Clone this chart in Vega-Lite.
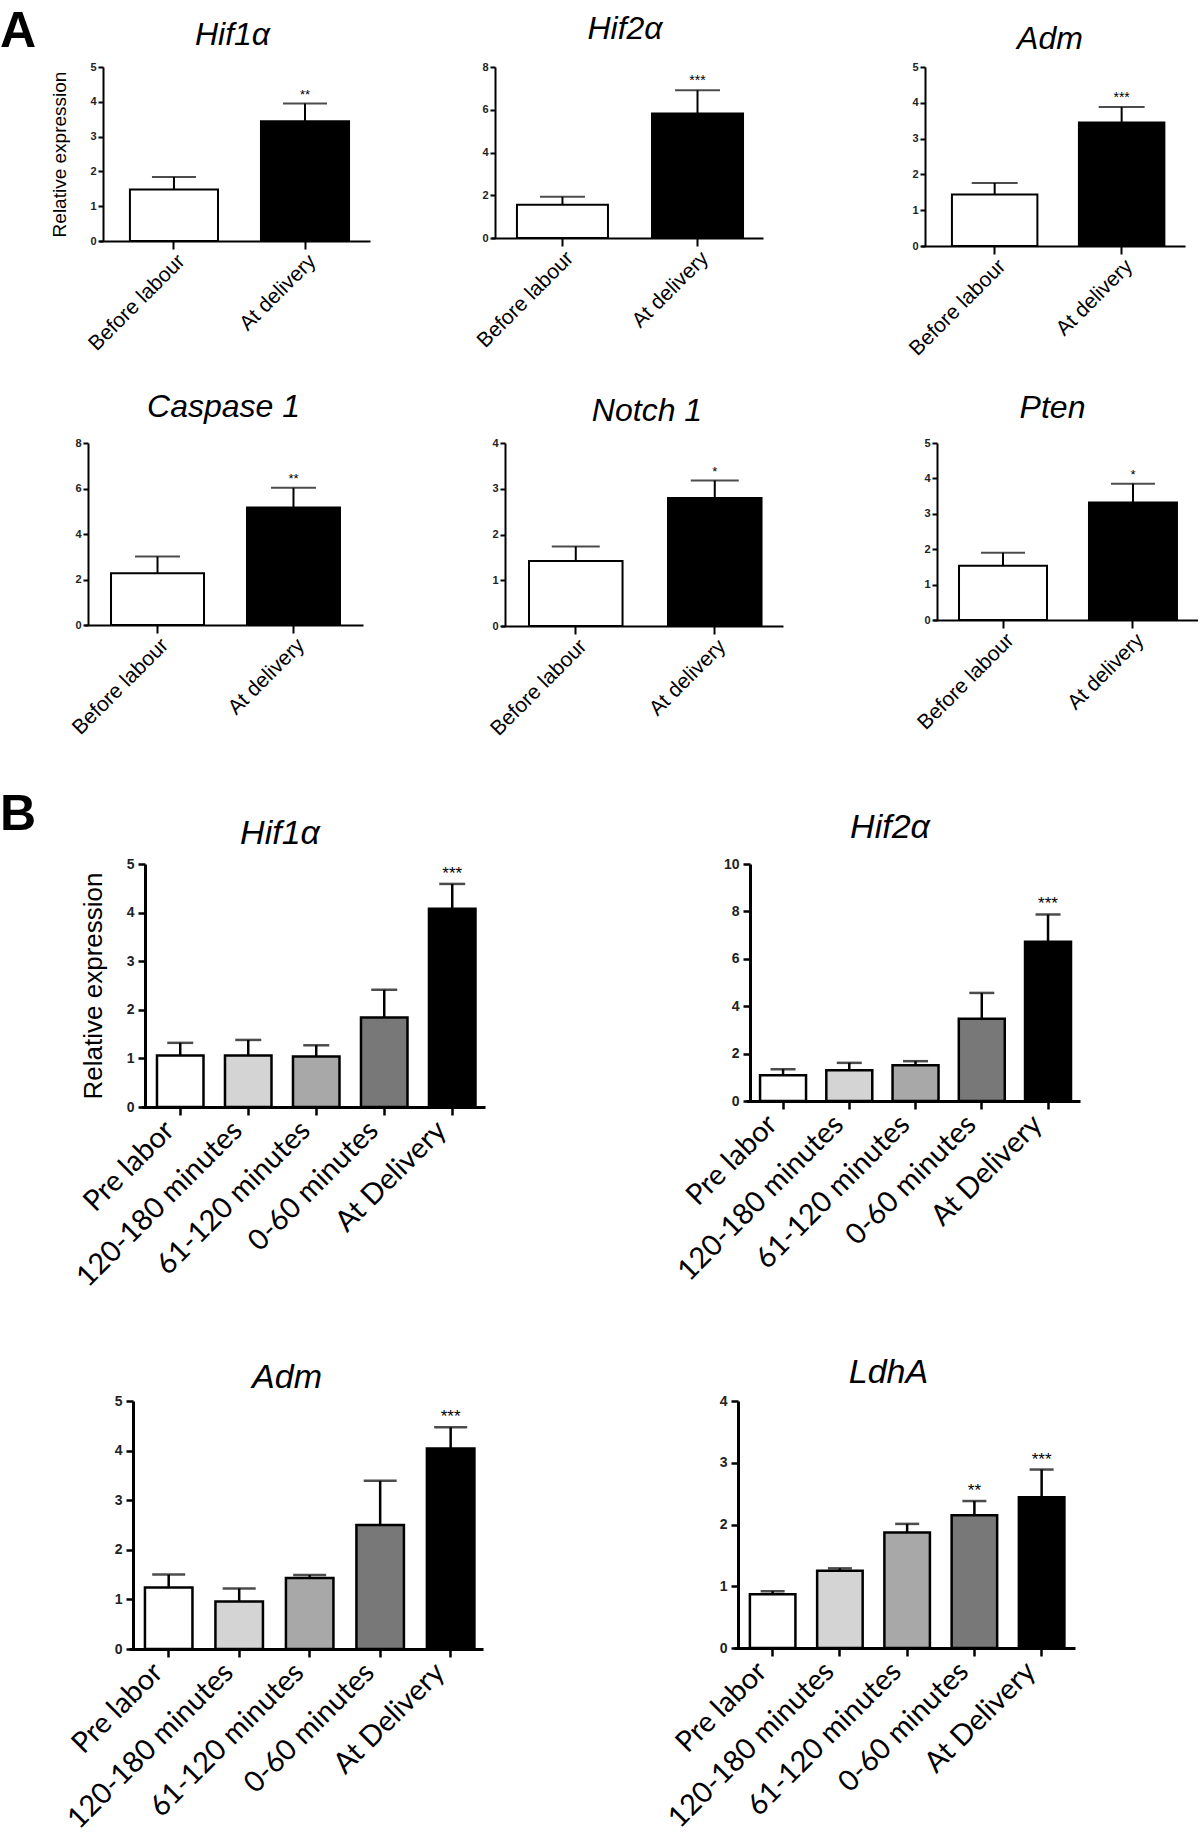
{
  "$schema": "https://vega.github.io/schema/vega-lite/v6.json",
  "background": "white",
  "padding": {"left": 0, "top": 7, "right": 0, "bottom": 0},
  "config": {"view": {"stroke": null}},
  "datasets": {
    "expr": [
      {"panel": "A1", "group": "Before labour", "value": 1.48, "err": 1.84, "sig": ""},
      {"panel": "A1", "group": "At delivery", "value": 3.44, "err": 3.95, "sig": "**"},
      {"panel": "A2", "group": "Before labour", "value": 1.56, "err": 1.93, "sig": ""},
      {"panel": "A2", "group": "At delivery", "value": 5.83, "err": 6.91, "sig": "***"},
      {"panel": "A3", "group": "Before labour", "value": 1.44, "err": 1.76, "sig": ""},
      {"panel": "A3", "group": "At delivery", "value": 3.45, "err": 3.88, "sig": "***"},
      {"panel": "A4", "group": "Before labour", "value": 2.28, "err": 3.01, "sig": ""},
      {"panel": "A4", "group": "At delivery", "value": 5.17, "err": 6.03, "sig": "**"},
      {"panel": "A5", "group": "Before labour", "value": 1.42, "err": 1.74, "sig": ""},
      {"panel": "A5", "group": "At delivery", "value": 2.8, "err": 3.18, "sig": "*"},
      {"panel": "A6", "group": "Before labour", "value": 1.53, "err": 1.9, "sig": ""},
      {"panel": "A6", "group": "At delivery", "value": 3.32, "err": 3.85, "sig": "*"},
      {"panel": "B1", "group": "Pre labor", "value": 1.06, "err": 1.32, "sig": ""},
      {"panel": "B1", "group": "120-180 minutes", "value": 1.06, "err": 1.38, "sig": ""},
      {"panel": "B1", "group": "61-120 minutes", "value": 1.04, "err": 1.27, "sig": ""},
      {"panel": "B1", "group": "0-60 minutes", "value": 1.84, "err": 2.41, "sig": ""},
      {"panel": "B1", "group": "At Delivery", "value": 4.08, "err": 4.59, "sig": "***"},
      {"panel": "B2", "group": "Pre labor", "value": 1.09, "err": 1.34, "sig": ""},
      {"panel": "B2", "group": "120-180 minutes", "value": 1.3, "err": 1.61, "sig": ""},
      {"panel": "B2", "group": "61-120 minutes", "value": 1.51, "err": 1.68, "sig": ""},
      {"panel": "B2", "group": "0-60 minutes", "value": 3.47, "err": 4.56, "sig": ""},
      {"panel": "B2", "group": "At Delivery", "value": 6.72, "err": 7.87, "sig": "***"},
      {"panel": "B3", "group": "Pre labor", "value": 1.24, "err": 1.5, "sig": ""},
      {"panel": "B3", "group": "120-180 minutes", "value": 0.96, "err": 1.22, "sig": ""},
      {"panel": "B3", "group": "61-120 minutes", "value": 1.43, "err": 1.49, "sig": ""},
      {"panel": "B3", "group": "0-60 minutes", "value": 2.5, "err": 3.39, "sig": ""},
      {"panel": "B3", "group": "At Delivery", "value": 4.04, "err": 4.47, "sig": "***"},
      {"panel": "B4", "group": "Pre labor", "value": 0.87, "err": 0.92, "sig": ""},
      {"panel": "B4", "group": "120-180 minutes", "value": 1.25, "err": 1.29, "sig": ""},
      {"panel": "B4", "group": "61-120 minutes", "value": 1.87, "err": 2.01, "sig": ""},
      {"panel": "B4", "group": "0-60 minutes", "value": 2.15, "err": 2.38, "sig": "**"},
      {"panel": "B4", "group": "At Delivery", "value": 2.44, "err": 2.89, "sig": "***"}
    ]
  },
  "spacing": 50,
  "vconcat": [
    {
      "spacing": 31,
      "vconcat": [
        {
          "spacing": 0,
          "bounds": "flush",
          "hconcat": [
            {"width": 16, "height": 1, "data": {"values": []}, "mark": {"type": "point", "opacity": 0},
             "title": {"text": "A", "font": "Liberation Sans", "fontSize": 50, "fontWeight": "bold", "color": "black", "anchor": "start", "frame": "group", "dx": -83, "offset": -30, "baseline": "alphabetic"}},
            {"width": 271, "height": 174,
             "title": {"text": "Hif1α", "font": "Liberation Sans", "fontSize": 32, "fontStyle": "italic", "fontWeight": "normal", "color": "black", "anchor": "middle", "frame": "group", "baseline": "alphabetic", "offset": -16, "dx": -2},
             "data": {"name": "expr"}, "transform": [{"filter": "datum.panel === 'A1'"}],
             "encoding": {
               "x": {"field": "group", "type": "nominal", "sort": ["Before labour", "At delivery"], "scale": {"paddingInner": 0.328, "paddingOuter": 0.198, "align": 0.596},
                     "axis": {"title": null, "labelAngle": -45, "labelAlign": "right", "labelBaseline": "top", "labelFont": "Liberation Sans", "labelFontSize": 21, "labelColor": "black", "labelPadding": 1, "labelLimit": 0, "tickSize": 8, "tickWidth": 2, "tickColor": "black", "domainColor": "black", "domainWidth": 2}},
               "y": {"field": "err", "type": "quantitative", "scale": {"domain": [0, 5], "nice": false},
                     "axis": {"offset": -4, "title": "Relative expression", "values": [0, 1, 2, 3, 4, 5], "grid": false, "labelFont": "Liberation Sans", "labelFontSize": 11, "labelFontWeight": "bold", "labelColor": "#222222", "labelPadding": 2, "tickSize": 5, "tickWidth": 2, "tickColor": "black", "domainColor": "black", "domainWidth": 2, "titleFont": "Liberation Sans", "titleFontSize": 19, "titleFontWeight": "normal", "titleColor": "black", "titlePadding": 20}}
             },
             "layer": [
               {"mark": {"type": "rule", "color": "black", "strokeWidth": 2}, "encoding": {"y2": {"field": "value"}}},
               {"mark": {"type": "tick", "orient": "horizontal", "color": "black", "thickness": 2, "size": 44}},
               {"mark": {"type": "bar", "stroke": "black", "strokeWidth": 2}, "encoding": {
                 "y": {"field": "value", "type": "quantitative", "scale": {"domain": [0, 5], "nice": false},
                       "axis": {"offset": -4, "title": "Relative expression", "values": [0, 1, 2, 3, 4, 5], "grid": false, "labelFont": "Liberation Sans", "labelFontSize": 11, "labelFontWeight": "bold", "labelColor": "#222222", "labelPadding": 2, "tickSize": 5, "tickWidth": 2, "tickColor": "black", "domainColor": "black", "domainWidth": 2, "titleFont": "Liberation Sans", "titleFontSize": 19, "titleFontWeight": "normal", "titleColor": "black", "titlePadding": 20}},
                 "fill": {"field": "group", "type": "nominal", "legend": null, "scale": {"domain": ["Before labour", "At delivery", "Pre labor", "120-180 minutes", "61-120 minutes", "0-60 minutes", "At Delivery"], "range": ["#ffffff", "#000000", "#ffffff", "#d4d4d4", "#a8a8a8", "#787878", "#000000"]}}}},
               {"mark": {"type": "text", "font": "Liberation Sans", "fontSize": 13, "baseline": "alphabetic", "dy": -5, "color": "black"}, "encoding": {"text": {"field": "sig"}}}
             ]},
            {"width": 121, "height": 1, "data": {"values": []}, "mark": {"type": "point", "opacity": 0}},
            {"width": 272, "height": 171,
             "title": {"text": "Hif2α", "font": "Liberation Sans", "fontSize": 32, "fontStyle": "italic", "fontWeight": "normal", "color": "black", "anchor": "middle", "frame": "group", "baseline": "alphabetic", "offset": -10, "dx": -2},
             "data": {"name": "expr"}, "transform": [{"filter": "datum.panel === 'A2'"}],
             "encoding": {
               "x": {"field": "group", "type": "nominal", "sort": ["Before labour", "At delivery"], "scale": {"paddingInner": 0.326, "paddingOuter": 0.17, "align": 0.565},
                     "axis": {"title": null, "labelAngle": -45, "labelAlign": "right", "labelBaseline": "top", "labelFont": "Liberation Sans", "labelFontSize": 21, "labelColor": "black", "labelPadding": 1, "labelLimit": 0, "tickSize": 8, "tickWidth": 2, "tickColor": "black", "domainColor": "black", "domainWidth": 2}},
               "y": {"field": "err", "type": "quantitative", "scale": {"domain": [0, 8], "nice": false},
                     "axis": {"offset": -4, "title": null, "values": [0, 2, 4, 6, 8], "grid": false, "labelFont": "Liberation Sans", "labelFontSize": 11, "labelFontWeight": "bold", "labelColor": "#222222", "labelPadding": 2, "tickSize": 5, "tickWidth": 2, "tickColor": "black", "domainColor": "black", "domainWidth": 2}}
             },
             "layer": [
               {"mark": {"type": "rule", "color": "black", "strokeWidth": 2}, "encoding": {"y2": {"field": "value"}}},
               {"mark": {"type": "tick", "orient": "horizontal", "color": "black", "thickness": 2, "size": 45}},
               {"mark": {"type": "bar", "stroke": "black", "strokeWidth": 2}, "encoding": {
                 "y": {"field": "value", "type": "quantitative", "scale": {"domain": [0, 8], "nice": false},
                       "axis": {"offset": -4, "title": null, "values": [0, 2, 4, 6, 8], "grid": false, "labelFont": "Liberation Sans", "labelFontSize": 11, "labelFontWeight": "bold", "labelColor": "#222222", "labelPadding": 2, "tickSize": 5, "tickWidth": 2, "tickColor": "black", "domainColor": "black", "domainWidth": 2}},
                 "fill": {"field": "group", "type": "nominal", "legend": null, "scale": {"domain": ["Before labour", "At delivery", "Pre labor", "120-180 minutes", "61-120 minutes", "0-60 minutes", "At Delivery"], "range": ["#ffffff", "#000000", "#ffffff", "#d4d4d4", "#a8a8a8", "#787878", "#000000"]}}}},
               {"mark": {"type": "text", "font": "Liberation Sans", "fontSize": 14, "baseline": "alphabetic", "dy": -5, "color": "black"}, "encoding": {"text": {"field": "sig"}}}
             ]},
            {"width": 158, "height": 1, "data": {"values": []}, "mark": {"type": "point", "opacity": 0}},
            {"width": 264, "height": 179,
             "title": {"text": "Adm", "font": "Liberation Sans", "fontSize": 32, "fontStyle": "italic", "fontWeight": "normal", "color": "black", "anchor": "middle", "frame": "group", "baseline": "alphabetic", "offset": -20, "dx": -3},
             "data": {"name": "expr"}, "transform": [{"filter": "datum.panel === 'A3'"}],
             "encoding": {
               "x": {"field": "group", "type": "nominal", "sort": ["Before labour", "At delivery"], "scale": {"paddingInner": 0.327, "paddingOuter": 0.203, "align": 0.6},
                     "axis": {"title": null, "labelAngle": -45, "labelAlign": "right", "labelBaseline": "top", "labelFont": "Liberation Sans", "labelFontSize": 21, "labelColor": "black", "labelPadding": 1, "labelLimit": 0, "tickSize": 8, "tickWidth": 2, "tickColor": "black", "domainColor": "black", "domainWidth": 2}},
               "y": {"field": "err", "type": "quantitative", "scale": {"domain": [0, 5], "nice": false},
                     "axis": {"offset": -4, "title": null, "values": [0, 1, 2, 3, 4, 5], "grid": false, "labelFont": "Liberation Sans", "labelFontSize": 11, "labelFontWeight": "bold", "labelColor": "#222222", "labelPadding": 2, "tickSize": 5, "tickWidth": 2, "tickColor": "black", "domainColor": "black", "domainWidth": 2}}
             },
             "layer": [
               {"mark": {"type": "rule", "color": "black", "strokeWidth": 2}, "encoding": {"y2": {"field": "value"}}},
               {"mark": {"type": "tick", "orient": "horizontal", "color": "black", "thickness": 2, "size": 46}},
               {"mark": {"type": "bar", "stroke": "black", "strokeWidth": 2}, "encoding": {
                 "y": {"field": "value", "type": "quantitative", "scale": {"domain": [0, 5], "nice": false},
                       "axis": {"offset": -4, "title": null, "values": [0, 1, 2, 3, 4, 5], "grid": false, "labelFont": "Liberation Sans", "labelFontSize": 11, "labelFontWeight": "bold", "labelColor": "#222222", "labelPadding": 2, "tickSize": 5, "tickWidth": 2, "tickColor": "black", "domainColor": "black", "domainWidth": 2}},
                 "fill": {"field": "group", "type": "nominal", "legend": null, "scale": {"domain": ["Before labour", "At delivery", "Pre labor", "120-180 minutes", "61-120 minutes", "0-60 minutes", "At Delivery"], "range": ["#ffffff", "#000000", "#ffffff", "#d4d4d4", "#a8a8a8", "#787878", "#000000"]}}}},
               {"mark": {"type": "text", "font": "Liberation Sans", "fontSize": 14, "baseline": "alphabetic", "dy": -5, "color": "black"}, "encoding": {"text": {"field": "sig"}}}
             ]}
          ]
        },
        {
          "spacing": 0,
          "bounds": "flush",
          "hconcat": [
            {"width": 1, "height": 1, "data": {"values": []}, "mark": {"type": "point", "opacity": 0}},
            {"width": 279, "height": 182,
             "title": {"text": "Caspase 1", "font": "Liberation Sans", "fontSize": 32, "fontStyle": "italic", "fontWeight": "normal", "color": "black", "anchor": "middle", "frame": "group", "baseline": "alphabetic", "offset": -12, "dx": 0},
             "data": {"name": "expr"}, "transform": [{"filter": "datum.panel === 'A4'"}],
             "encoding": {
               "x": {"field": "group", "type": "nominal", "sort": ["Before labour", "At delivery"], "scale": {"paddingInner": 0.316, "paddingOuter": 0.184, "align": 0.54},
                     "axis": {"title": null, "labelAngle": -45, "labelAlign": "right", "labelBaseline": "top", "labelFont": "Liberation Sans", "labelFontSize": 21, "labelColor": "black", "labelPadding": 1, "labelLimit": 0, "tickSize": 8, "tickWidth": 2, "tickColor": "black", "domainColor": "black", "domainWidth": 2}},
               "y": {"field": "err", "type": "quantitative", "scale": {"domain": [0, 8], "nice": false},
                     "axis": {"offset": -4, "title": null, "values": [0, 2, 4, 6, 8], "grid": false, "labelFont": "Liberation Sans", "labelFontSize": 11, "labelFontWeight": "bold", "labelColor": "#222222", "labelPadding": 2, "tickSize": 5, "tickWidth": 2, "tickColor": "black", "domainColor": "black", "domainWidth": 2}}
             },
             "layer": [
               {"mark": {"type": "rule", "color": "black", "strokeWidth": 2}, "encoding": {"y2": {"field": "value"}}},
               {"mark": {"type": "tick", "orient": "horizontal", "color": "black", "thickness": 2, "size": 45}},
               {"mark": {"type": "bar", "stroke": "black", "strokeWidth": 2}, "encoding": {
                 "y": {"field": "value", "type": "quantitative", "scale": {"domain": [0, 8], "nice": false},
                       "axis": {"offset": -4, "title": null, "values": [0, 2, 4, 6, 8], "grid": false, "labelFont": "Liberation Sans", "labelFontSize": 11, "labelFontWeight": "bold", "labelColor": "#222222", "labelPadding": 2, "tickSize": 5, "tickWidth": 2, "tickColor": "black", "domainColor": "black", "domainWidth": 2}},
                 "fill": {"field": "group", "type": "nominal", "legend": null, "scale": {"domain": ["Before labour", "At delivery", "Pre labor", "120-180 minutes", "61-120 minutes", "0-60 minutes", "At Delivery"], "range": ["#ffffff", "#000000", "#ffffff", "#d4d4d4", "#a8a8a8", "#787878", "#000000"]}}}},
               {"mark": {"type": "text", "font": "Liberation Sans", "fontSize": 13, "baseline": "alphabetic", "dy": -5, "color": "black"}, "encoding": {"text": {"field": "sig"}}}
             ]},
            {"width": 138, "height": 1, "data": {"values": []}, "mark": {"type": "point", "opacity": 0}},
            {"width": 282, "height": 183,
             "title": {"text": "Notch 1", "font": "Liberation Sans", "fontSize": 32, "fontStyle": "italic", "fontWeight": "normal", "color": "black", "anchor": "middle", "frame": "group", "baseline": "alphabetic", "offset": -16, "dx": 5},
             "data": {"name": "expr"}, "transform": [{"filter": "datum.panel === 'A5'"}],
             "encoding": {
               "x": {"field": "group", "type": "nominal", "sort": ["Before labour", "At delivery"], "scale": {"paddingInner": 0.327, "paddingOuter": 0.178, "align": 0.566},
                     "axis": {"title": null, "labelAngle": -45, "labelAlign": "right", "labelBaseline": "top", "labelFont": "Liberation Sans", "labelFontSize": 21, "labelColor": "black", "labelPadding": 1, "labelLimit": 0, "tickSize": 8, "tickWidth": 2, "tickColor": "black", "domainColor": "black", "domainWidth": 2}},
               "y": {"field": "err", "type": "quantitative", "scale": {"domain": [0, 4], "nice": false},
                     "axis": {"offset": -4, "title": null, "values": [0, 1, 2, 3, 4], "grid": false, "labelFont": "Liberation Sans", "labelFontSize": 11, "labelFontWeight": "bold", "labelColor": "#222222", "labelPadding": 2, "tickSize": 5, "tickWidth": 2, "tickColor": "black", "domainColor": "black", "domainWidth": 2}}
             },
             "layer": [
               {"mark": {"type": "rule", "color": "black", "strokeWidth": 2}, "encoding": {"y2": {"field": "value"}}},
               {"mark": {"type": "tick", "orient": "horizontal", "color": "black", "thickness": 2, "size": 48}},
               {"mark": {"type": "bar", "stroke": "black", "strokeWidth": 2}, "encoding": {
                 "y": {"field": "value", "type": "quantitative", "scale": {"domain": [0, 4], "nice": false},
                       "axis": {"offset": -4, "title": null, "values": [0, 1, 2, 3, 4], "grid": false, "labelFont": "Liberation Sans", "labelFontSize": 11, "labelFontWeight": "bold", "labelColor": "#222222", "labelPadding": 2, "tickSize": 5, "tickWidth": 2, "tickColor": "black", "domainColor": "black", "domainWidth": 2}},
                 "fill": {"field": "group", "type": "nominal", "legend": null, "scale": {"domain": ["Before labour", "At delivery", "Pre labor", "120-180 minutes", "61-120 minutes", "0-60 minutes", "At Delivery"], "range": ["#ffffff", "#000000", "#ffffff", "#d4d4d4", "#a8a8a8", "#787878", "#000000"]}}}},
               {"mark": {"type": "text", "font": "Liberation Sans", "fontSize": 13, "baseline": "alphabetic", "dy": -5, "color": "black"}, "encoding": {"text": {"field": "sig"}}}
             ]},
            {"width": 150, "height": 1, "data": {"values": []}, "mark": {"type": "point", "opacity": 0}},
            {"width": 265, "height": 177,
             "title": {"text": "Pten", "font": "Liberation Sans", "fontSize": 32, "fontStyle": "italic", "fontWeight": "normal", "color": "black", "anchor": "middle", "frame": "group", "baseline": "alphabetic", "offset": -13, "dx": -13},
             "data": {"name": "expr"}, "transform": [{"filter": "datum.panel === 'A6'"}],
             "encoding": {
               "x": {"field": "group", "type": "nominal", "sort": ["Before labour", "At delivery"], "scale": {"paddingInner": 0.323, "paddingOuter": 0.181, "align": 0.553},
                     "axis": {"title": null, "labelAngle": -45, "labelAlign": "right", "labelBaseline": "top", "labelFont": "Liberation Sans", "labelFontSize": 21, "labelColor": "black", "labelPadding": 1, "labelLimit": 0, "tickSize": 8, "tickWidth": 2, "tickColor": "black", "domainColor": "black", "domainWidth": 2}},
               "y": {"field": "err", "type": "quantitative", "scale": {"domain": [0, 5], "nice": false},
                     "axis": {"offset": -4, "title": null, "values": [0, 1, 2, 3, 4, 5], "grid": false, "labelFont": "Liberation Sans", "labelFontSize": 11, "labelFontWeight": "bold", "labelColor": "#222222", "labelPadding": 2, "tickSize": 5, "tickWidth": 2, "tickColor": "black", "domainColor": "black", "domainWidth": 2}}
             },
             "layer": [
               {"mark": {"type": "rule", "color": "black", "strokeWidth": 2}, "encoding": {"y2": {"field": "value"}}},
               {"mark": {"type": "tick", "orient": "horizontal", "color": "black", "thickness": 2, "size": 44}},
               {"mark": {"type": "bar", "stroke": "black", "strokeWidth": 2}, "encoding": {
                 "y": {"field": "value", "type": "quantitative", "scale": {"domain": [0, 5], "nice": false},
                       "axis": {"offset": -4, "title": null, "values": [0, 1, 2, 3, 4, 5], "grid": false, "labelFont": "Liberation Sans", "labelFontSize": 11, "labelFontWeight": "bold", "labelColor": "#222222", "labelPadding": 2, "tickSize": 5, "tickWidth": 2, "tickColor": "black", "domainColor": "black", "domainWidth": 2}},
                 "fill": {"field": "group", "type": "nominal", "legend": null, "scale": {"domain": ["Before labour", "At delivery", "Pre labor", "120-180 minutes", "61-120 minutes", "0-60 minutes", "At Delivery"], "range": ["#ffffff", "#000000", "#ffffff", "#d4d4d4", "#a8a8a8", "#787878", "#000000"]}}}},
               {"mark": {"type": "text", "font": "Liberation Sans", "fontSize": 13, "baseline": "alphabetic", "dy": -5, "color": "black"}, "encoding": {"text": {"field": "sig"}}}
             ]}
          ]
        }
      ]
    },
    {
      "spacing": 64,
      "vconcat": [
        {
          "spacing": 0,
          "bounds": "flush",
          "hconcat": [
            {"width": 58, "height": 1, "data": {"values": []}, "mark": {"type": "point", "opacity": 0},
             "title": {"text": "B", "font": "Liberation Sans", "fontSize": 50, "fontWeight": "bold", "color": "black", "anchor": "start", "frame": "group", "dx": -83, "offset": -16, "baseline": "alphabetic"}},
            {"width": 344, "height": 243,
             "title": {"text": "Hif1α", "font": "Liberation Sans", "fontSize": 34, "fontStyle": "italic", "fontWeight": "normal", "color": "black", "anchor": "middle", "frame": "group", "baseline": "alphabetic", "offset": -21, "dx": -33},
             "data": {"name": "expr"}, "transform": [{"filter": "datum.panel === 'B1'"}],
             "encoding": {
               "x": {"field": "group", "type": "nominal", "sort": ["Pre labor", "120-180 minutes", "61-120 minutes", "0-60 minutes", "At Delivery"], "scale": {"paddingInner": 0.316, "paddingOuter": 0.1875, "align": 0.627},
                     "axis": {"title": null, "labelAngle": -45, "labelAlign": "right", "labelBaseline": "bottom", "labelFont": "Lato", "labelFontSize": 29, "labelColor": "black", "labelPadding": 21, "labelLimit": 0, "tickSize": 8, "tickWidth": 2.5, "tickColor": "black", "domainColor": "black", "domainWidth": 3}},
               "y": {"field": "err", "type": "quantitative", "scale": {"domain": [0, 5], "nice": false},
                     "axis": {"offset": -4, "title": "Relative expression", "values": [0, 1, 2, 3, 4, 5], "grid": false, "labelFont": "Liberation Sans", "labelFontSize": 14, "labelFontWeight": "bold", "labelColor": "#222222", "labelPadding": 4, "tickSize": 7, "tickWidth": 2.5, "tickColor": "black", "domainColor": "black", "domainWidth": 3, "titleFont": "Liberation Sans", "titleFontSize": 26, "titleFontWeight": "normal", "titleColor": "black", "titlePadding": 20}}
             },
             "layer": [
               {"mark": {"type": "rule", "color": "black", "strokeWidth": 2.5}, "encoding": {"y2": {"field": "value"}}},
               {"mark": {"type": "tick", "orient": "horizontal", "color": "black", "thickness": 2.5, "size": 26}},
               {"mark": {"type": "bar", "stroke": "black", "strokeWidth": 2.5}, "encoding": {
                 "y": {"field": "value", "type": "quantitative", "scale": {"domain": [0, 5], "nice": false},
                       "axis": {"offset": -4, "title": "Relative expression", "values": [0, 1, 2, 3, 4, 5], "grid": false, "labelFont": "Liberation Sans", "labelFontSize": 14, "labelFontWeight": "bold", "labelColor": "#222222", "labelPadding": 4, "tickSize": 7, "tickWidth": 2.5, "tickColor": "black", "domainColor": "black", "domainWidth": 3, "titleFont": "Liberation Sans", "titleFontSize": 26, "titleFontWeight": "normal", "titleColor": "black", "titlePadding": 20}},
                 "fill": {"field": "group", "type": "nominal", "legend": null, "scale": {"domain": ["Before labour", "At delivery", "Pre labor", "120-180 minutes", "61-120 minutes", "0-60 minutes", "At Delivery"], "range": ["#ffffff", "#000000", "#ffffff", "#d4d4d4", "#a8a8a8", "#787878", "#000000"]}}}},
               {"mark": {"type": "text", "font": "Liberation Sans", "fontSize": 17, "baseline": "alphabetic", "dy": -5, "color": "black"}, "encoding": {"text": {"field": "sig"}}}
             ]},
            {"width": 261, "height": 1, "data": {"values": []}, "mark": {"type": "point", "opacity": 0}},
            {"width": 334, "height": 237,
             "title": {"text": "Hif2α", "font": "Liberation Sans", "fontSize": 34, "fontStyle": "italic", "fontWeight": "normal", "color": "black", "anchor": "middle", "frame": "group", "baseline": "alphabetic", "offset": -15, "dx": -23},
             "data": {"name": "expr"}, "transform": [{"filter": "datum.panel === 'B2'"}],
             "encoding": {
               "x": {"field": "group", "type": "nominal", "sort": ["Pre labor", "120-180 minutes", "61-120 minutes", "0-60 minutes", "At Delivery"], "scale": {"paddingInner": 0.306, "paddingOuter": 0.174, "align": 0.61},
                     "axis": {"title": null, "labelAngle": -45, "labelAlign": "right", "labelBaseline": "bottom", "labelFont": "Lato", "labelFontSize": 29, "labelColor": "black", "labelPadding": 21, "labelLimit": 0, "tickSize": 8, "tickWidth": 2.5, "tickColor": "black", "domainColor": "black", "domainWidth": 3}},
               "y": {"field": "err", "type": "quantitative", "scale": {"domain": [0, 10], "nice": false},
                     "axis": {"offset": -4, "title": null, "values": [0, 2, 4, 6, 8, 10], "grid": false, "labelFont": "Liberation Sans", "labelFontSize": 14, "labelFontWeight": "bold", "labelColor": "#222222", "labelPadding": 4, "tickSize": 7, "tickWidth": 2.5, "tickColor": "black", "domainColor": "black", "domainWidth": 3}}
             },
             "layer": [
               {"mark": {"type": "rule", "color": "black", "strokeWidth": 2.5}, "encoding": {"y2": {"field": "value"}}},
               {"mark": {"type": "tick", "orient": "horizontal", "color": "black", "thickness": 2.5, "size": 25}},
               {"mark": {"type": "bar", "stroke": "black", "strokeWidth": 2.5}, "encoding": {
                 "y": {"field": "value", "type": "quantitative", "scale": {"domain": [0, 10], "nice": false},
                       "axis": {"offset": -4, "title": null, "values": [0, 2, 4, 6, 8, 10], "grid": false, "labelFont": "Liberation Sans", "labelFontSize": 14, "labelFontWeight": "bold", "labelColor": "#222222", "labelPadding": 4, "tickSize": 7, "tickWidth": 2.5, "tickColor": "black", "domainColor": "black", "domainWidth": 3}},
                 "fill": {"field": "group", "type": "nominal", "legend": null, "scale": {"domain": ["Before labour", "At delivery", "Pre labor", "120-180 minutes", "61-120 minutes", "0-60 minutes", "At Delivery"], "range": ["#ffffff", "#000000", "#ffffff", "#d4d4d4", "#a8a8a8", "#787878", "#000000"]}}}},
               {"mark": {"type": "text", "font": "Liberation Sans", "fontSize": 17, "baseline": "alphabetic", "dy": -5, "color": "black"}, "encoding": {"text": {"field": "sig"}}}
             ]}
          ]
        },
        {
          "spacing": 0,
          "bounds": "flush",
          "hconcat": [
            {"width": 46, "height": 1, "data": {"values": []}, "mark": {"type": "point", "opacity": 0}},
            {"width": 354, "height": 248,
             "title": {"text": "Adm", "font": "Liberation Sans", "fontSize": 34, "fontStyle": "italic", "fontWeight": "normal", "color": "black", "anchor": "middle", "frame": "group", "baseline": "alphabetic", "offset": -28, "dx": -19},
             "data": {"name": "expr"}, "transform": [{"filter": "datum.panel === 'B3'"}],
             "encoding": {
               "x": {"field": "group", "type": "nominal", "sort": ["Pre labor", "120-180 minutes", "61-120 minutes", "0-60 minutes", "At Delivery"], "scale": {"paddingInner": 0.326, "paddingOuter": 0.174, "align": 0.65},
                     "axis": {"title": null, "labelAngle": -45, "labelAlign": "right", "labelBaseline": "bottom", "labelFont": "Lato", "labelFontSize": 29, "labelColor": "black", "labelPadding": 21, "labelLimit": 0, "tickSize": 8, "tickWidth": 2.5, "tickColor": "black", "domainColor": "black", "domainWidth": 3}},
               "y": {"field": "err", "type": "quantitative", "scale": {"domain": [0, 5], "nice": false},
                     "axis": {"offset": -4, "title": null, "values": [0, 1, 2, 3, 4, 5], "grid": false, "labelFont": "Liberation Sans", "labelFontSize": 14, "labelFontWeight": "bold", "labelColor": "#222222", "labelPadding": 4, "tickSize": 7, "tickWidth": 2.5, "tickColor": "black", "domainColor": "black", "domainWidth": 3}}
             },
             "layer": [
               {"mark": {"type": "rule", "color": "black", "strokeWidth": 2.5}, "encoding": {"y2": {"field": "value"}}},
               {"mark": {"type": "tick", "orient": "horizontal", "color": "black", "thickness": 2.5, "size": 33}},
               {"mark": {"type": "bar", "stroke": "black", "strokeWidth": 2.5}, "encoding": {
                 "y": {"field": "value", "type": "quantitative", "scale": {"domain": [0, 5], "nice": false},
                       "axis": {"offset": -4, "title": null, "values": [0, 1, 2, 3, 4, 5], "grid": false, "labelFont": "Liberation Sans", "labelFontSize": 14, "labelFontWeight": "bold", "labelColor": "#222222", "labelPadding": 4, "tickSize": 7, "tickWidth": 2.5, "tickColor": "black", "domainColor": "black", "domainWidth": 3}},
                 "fill": {"field": "group", "type": "nominal", "legend": null, "scale": {"domain": ["Before labour", "At delivery", "Pre labor", "120-180 minutes", "61-120 minutes", "0-60 minutes", "At Delivery"], "range": ["#ffffff", "#000000", "#ffffff", "#d4d4d4", "#a8a8a8", "#787878", "#000000"]}}}},
               {"mark": {"type": "text", "font": "Liberation Sans", "fontSize": 17, "baseline": "alphabetic", "dy": -5, "color": "black"}, "encoding": {"text": {"field": "sig"}}}
             ]},
            {"width": 251, "height": 1, "data": {"values": []}, "mark": {"type": "point", "opacity": 0}},
            {"width": 341, "height": 247,
             "title": {"text": "LdhA", "font": "Liberation Sans", "fontSize": 34, "fontStyle": "italic", "fontWeight": "normal", "color": "black", "anchor": "middle", "frame": "group", "baseline": "alphabetic", "offset": -23, "dx": -16},
             "data": {"name": "expr"}, "transform": [{"filter": "datum.panel === 'B4'"}],
             "encoding": {
               "x": {"field": "group", "type": "nominal", "sort": ["Pre labor", "120-180 minutes", "61-120 minutes", "0-60 minutes", "At Delivery"], "scale": {"paddingInner": 0.323, "paddingOuter": 0.197, "align": 0.6},
                     "axis": {"title": null, "labelAngle": -45, "labelAlign": "right", "labelBaseline": "bottom", "labelFont": "Lato", "labelFontSize": 29, "labelColor": "black", "labelPadding": 21, "labelLimit": 0, "tickSize": 8, "tickWidth": 2.5, "tickColor": "black", "domainColor": "black", "domainWidth": 3}},
               "y": {"field": "err", "type": "quantitative", "scale": {"domain": [0, 4], "nice": false},
                     "axis": {"offset": -4, "title": null, "values": [0, 1, 2, 3, 4], "grid": false, "labelFont": "Liberation Sans", "labelFontSize": 14, "labelFontWeight": "bold", "labelColor": "#222222", "labelPadding": 4, "tickSize": 7, "tickWidth": 2.5, "tickColor": "black", "domainColor": "black", "domainWidth": 3}}
             },
             "layer": [
               {"mark": {"type": "rule", "color": "black", "strokeWidth": 2.5}, "encoding": {"y2": {"field": "value"}}},
               {"mark": {"type": "tick", "orient": "horizontal", "color": "black", "thickness": 2.5, "size": 24}},
               {"mark": {"type": "bar", "stroke": "black", "strokeWidth": 2.5}, "encoding": {
                 "y": {"field": "value", "type": "quantitative", "scale": {"domain": [0, 4], "nice": false},
                       "axis": {"offset": -4, "title": null, "values": [0, 1, 2, 3, 4], "grid": false, "labelFont": "Liberation Sans", "labelFontSize": 14, "labelFontWeight": "bold", "labelColor": "#222222", "labelPadding": 4, "tickSize": 7, "tickWidth": 2.5, "tickColor": "black", "domainColor": "black", "domainWidth": 3}},
                 "fill": {"field": "group", "type": "nominal", "legend": null, "scale": {"domain": ["Before labour", "At delivery", "Pre labor", "120-180 minutes", "61-120 minutes", "0-60 minutes", "At Delivery"], "range": ["#ffffff", "#000000", "#ffffff", "#d4d4d4", "#a8a8a8", "#787878", "#000000"]}}}},
               {"mark": {"type": "text", "font": "Liberation Sans", "fontSize": 17, "baseline": "alphabetic", "dy": -5, "color": "black"}, "encoding": {"text": {"field": "sig"}}}
             ]}
          ]
        }
      ]
    }
  ]
}
